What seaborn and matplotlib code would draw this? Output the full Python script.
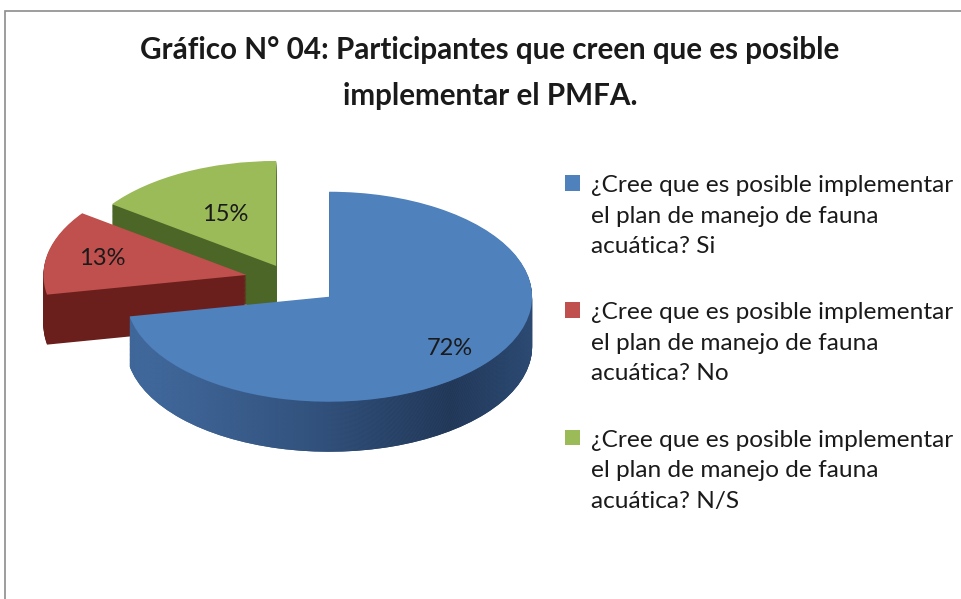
import matplotlib
matplotlib.use("Agg")
import numpy as np
import matplotlib.pyplot as plt
import seaborn as sns
from matplotlib.patches import Rectangle
from matplotlib.colors import LinearSegmentedColormap

sns.set_theme(style="white")
plt.rcParams['font.family'] = ['Lato', 'DejaVu Sans']

# data
respuestas = ["¿Cree que es posible implementar\nel plan de manejo de fauna\nacuática? Si",
              "¿Cree que es posible implementar\nel plan de manejo de fauna\nacuática? No",
              "¿Cree que es posible implementar\nel plan de manejo de fauna\nacuática? N/S"]
porcentajes = [72, 13, 15]
titulo = "Gráfico N° 04: Participantes que creen que es posible\nimplementar el PMFA."

top_colors = ["#4f81bd", "#c0504d", "#9bbb59"]
side_colors = ["#34547f", "#6b1f1c", "#4b6626"]
explode = [0.25, 0.22, 0.15]
label_dist = [0.77, 0.73, 0.55]

# shading of the blue slice's rim, left -> right
blue_rim = LinearSegmentedColormap.from_list(
    "rim", [(0, "#4873aa"), (0.45, "#33537f"), (0.8, "#1f3351"), (1, "#2b4870")])

W, H = 961, 599
fig = plt.figure(figsize=(W / 100, H / 100), dpi=100)

# pixel geometry of the pie
cx, cy = 290, 599 - 280     # centre in px (from bottom)
rx, ry = 203, 105           # ellipse radii in px
depth = 50                  # thickness in px

ax_l, ax_b, ax_w, ax_h = 0, 60, 600, 440
ax = fig.add_axes([ax_l / W, ax_b / H, ax_w / W, ax_h / H])

x0 = (ax_l - cx) / rx
y0 = (ax_b - cy) / ry
xlim = (x0, x0 + ax_w / rx)
ylim = (y0, y0 + ax_h / ry)
grad = np.linspace(0, 1, 256).reshape(1, -1)

nlay = 60
for k in range(nlay, 0, -1):
    dz = depth / ry * k / nlay
    side, _ = ax.pie(porcentajes, explode=explode, colors=side_colors,
                     startangle=90, counterclock=False, center=(0, -dz),
                     wedgeprops=dict(linewidth=0, antialiased=True))
    bx = side[0].center[0]
    ax.imshow(grad, extent=(bx - 1, bx + 1, -2, 1), cmap=blue_rim,
              aspect='auto', zorder=side[0].get_zorder(), clip_path=side[0],
              interpolation='bilinear')

wedges, texts, autotexts = ax.pie(
    porcentajes, explode=explode, colors=top_colors, startangle=90,
    counterclock=False, autopct='%.0f%%', pctdistance=0.7,
    wedgeprops=dict(linewidth=0),
    textprops=dict(fontsize=17, color="#1a1a1a"))

# move each percentage label along its wedge's bisector
for w, t, d in zip(wedges, autotexts, label_dist):
    wx, wy = w.center
    px, py = t.get_position()
    f = d / 0.7
    t.set_position((wx + (px - wx) * f, wy + (py - wy) * f))

ax.set_aspect('auto')
ax.set_xlim(*xlim)
ax.set_ylim(*ylim)
ax.axis('off')

fig.text(490 / W, 1 - 73 / H, titulo, ha='center', va='center',
         fontsize=21.3, fontweight='bold', linespacing=1.75, color="#1a1a1a")

leg = fig.legend(wedges, respuestas, loc='upper left',
                 bbox_to_anchor=(543 / W, 1 - 153 / H), frameon=False,
                 fontsize=17.6, handlelength=0.6, handleheight=0.6,
                 handletextpad=0.45, labelspacing=1.85)
for t in leg.get_texts():
    t.set_linespacing(1.56)
    t.set_color("#1a1a1a")
# put the colour box next to the first line of each entry
for col in leg._legend_handle_box.get_children():
    for row in col.get_children():
        row.align = "top"

fig.patches.append(Rectangle((5 / W, -0.1), 1.2, 1 - 11 / H + 0.1,
                             transform=fig.transFigure, fill=False,
                             edgecolor="#8c8c8c", linewidth=1.2))

fig.savefig("out.png", dpi=100)
